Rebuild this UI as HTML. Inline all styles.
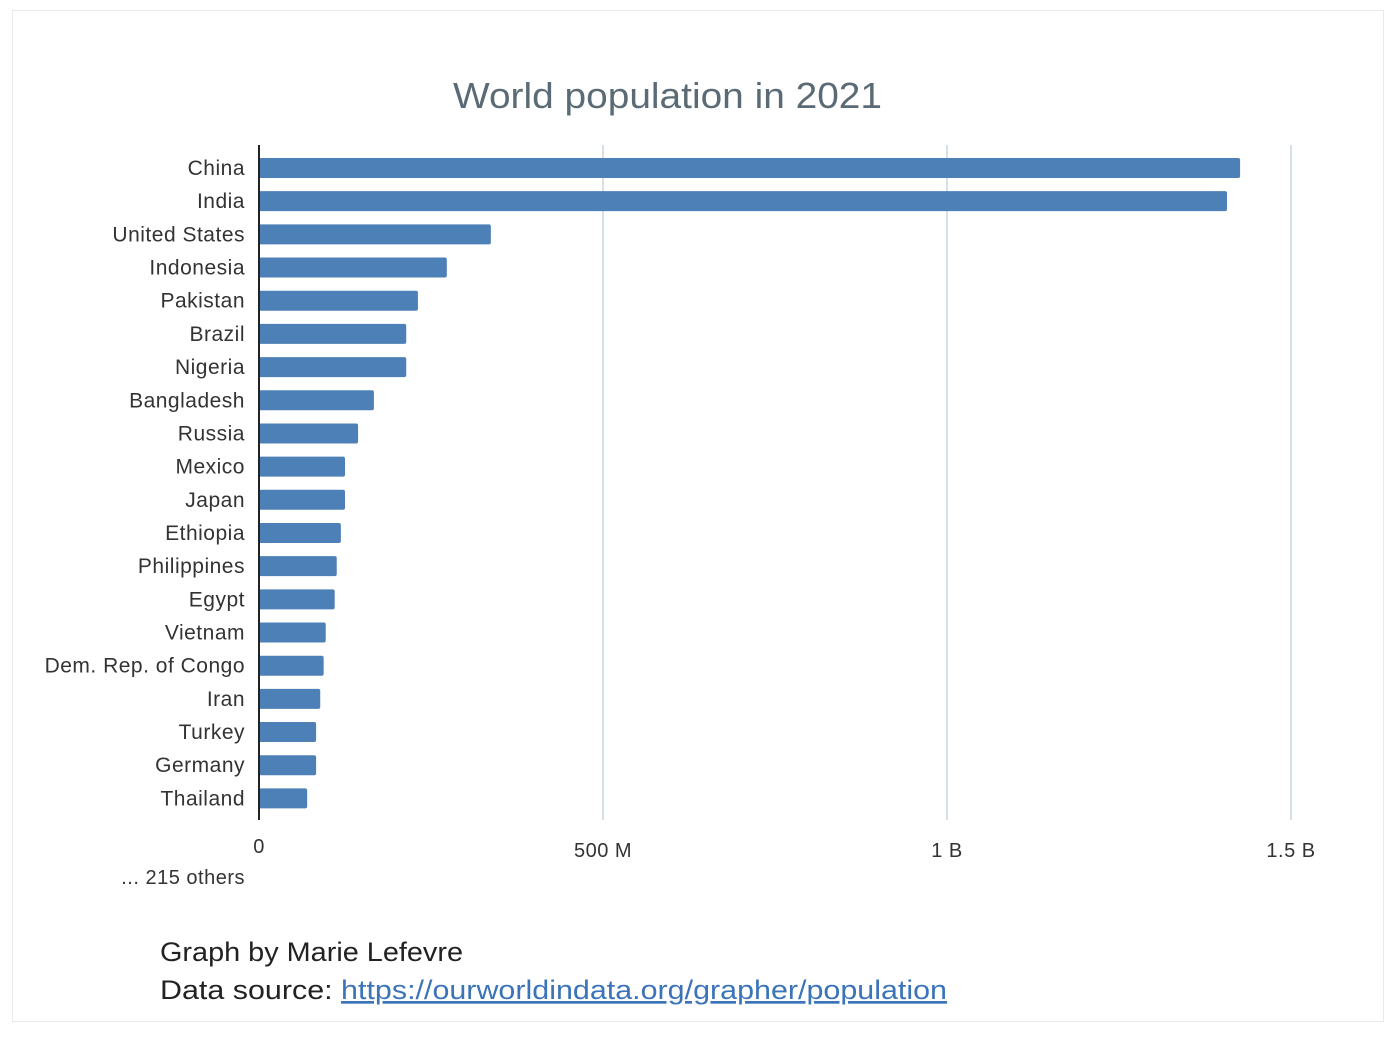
<!DOCTYPE html>
<html><head><meta charset="utf-8"><style>
html,body{margin:0;padding:0;background:#fff;}
body{width:1400px;height:1039px;position:relative;overflow:hidden;font-family:"Liberation Sans",sans-serif;}
#frame{position:absolute;left:12px;top:10px;width:1372px;height:1012px;border:1px solid #e6ebee;box-sizing:border-box;}
</style></head><body>
<div id="frame"></div>
<svg id="chart" width="1400" height="1039" style="position:absolute;left:0;top:0">
<text x="453" y="108" textLength="429" lengthAdjust="spacingAndGlyphs" font-size="36" fill="#5b6b76">World population in 2021</text>
<g id="grid"></g><g id="bars"></g><g id="labels"></g><g id="ticks"></g>
<line x1="259" y1="145" x2="259" y2="820" stroke="#222" stroke-width="2"/>
<text x="245" y="884" text-anchor="end" font-size="20" letter-spacing="0.5" fill="#333">... 215 others</text>
<text x="160" y="961" textLength="303" lengthAdjust="spacingAndGlyphs" font-size="27" fill="#222">Graph by Marie Lefevre</text>
<text x="160" y="999" textLength="787" lengthAdjust="spacingAndGlyphs" font-size="27" fill="#222">Data source: <tspan fill="#3b74b8" text-decoration="underline">https://ourworldindata.org/grapher/population</tspan></text>
</svg>
<script>
const categories=["China","India","United States","Indonesia","Pakistan","Brazil","Nigeria","Bangladesh","Russia","Mexico","Japan","Ethiopia","Philippines","Egypt","Vietnam","Dem. Rep. of Congo","Iran","Turkey","Germany","Thailand"];
const values=[1426,1407,337,273,231,214,214,167,144,125,125,119,113,110,97,94,89,83,83,70];
const tickValues=[0,500,1000,1500];
const tickLabels=["0","500 M","1 B","1.5 B"];
const NS="http://www.w3.org/2000/svg";
const x0=259,pxPer=344/500,y0=168,pitch=33.18,barH=20;
const xs=v=>x0+v*pxPer, ys=i=>y0+i*pitch;
function mk(t,a,p){const e=document.createElementNS(NS,t);for(const k in a)e.setAttribute(k,a[k]);p.appendChild(e);return e;}
const grid=document.getElementById('grid'),bars=document.getElementById('bars'),labels=document.getElementById('labels'),ticks=document.getElementById('ticks');
tickValues.forEach((v,i)=>{
 if(v>0){const l=mk('line',{x1:xs(v),x2:xs(v),y1:145,y2:820,stroke:'#c9d6df','stroke-width':1.5},grid);
 
 }
 const t=mk('text',{x:xs(v),y:i==0?853:857,'text-anchor':'middle','font-size':20,'letter-spacing':0.5,fill:'#333'},ticks);t.textContent=tickLabels[i];
 
 
});
categories.forEach((c,i)=>{
 const r=mk('rect',{x:x0,y:ys(i)-barH/2,width:xs(values[i])-x0,height:barH,rx:2,fill:'#4e80b8'},bars);
 
 
 const t=mk('text',{x:245,y:ys(i)+7,'text-anchor':'end','font-size':21,'letter-spacing':0.5,fill:'#333'},labels);t.textContent=c;
 
 
});
</script>
</body></html>
